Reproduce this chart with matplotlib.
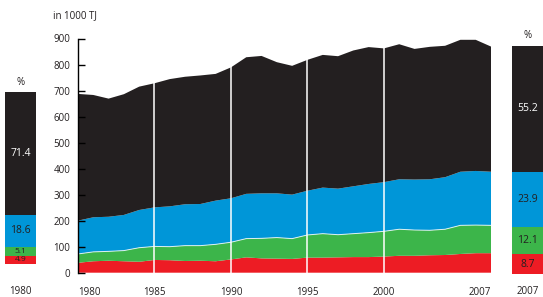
import numpy as np
import matplotlib
matplotlib.use("Agg")
import matplotlib.pyplot as plt

plt.rcParams['font.family'] = ['Open Sans', 'DejaVu Sans']

# data, in 1000 TJ
years = list(range(1980, 2008))
red = [38, 44, 46, 44, 42, 49, 48, 45, 46, 44, 51, 59, 55, 54, 53, 58, 58, 59, 60, 60,
       62, 65, 65, 67, 68, 72, 75, 75]
green = [34, 36, 36, 41, 54, 52, 52, 59, 58, 65, 66, 72, 77, 81, 78, 87, 92, 87, 90, 94,
         97, 102, 99, 96, 99, 110, 108, 107]
blue = [128, 133, 133, 137, 145, 150, 155, 159, 160, 168, 169, 172, 173, 170, 169, 170,
        177, 177, 182, 187, 189, 192, 194, 196, 200, 206, 208, 206]
black = [487, 470, 454, 464, 474, 477, 489, 490, 494, 487, 503, 525, 528, 504, 495, 503,
         510, 509, 522, 526, 514, 519, 502, 509, 505, 507, 504, 481]

share_1980 = [4.9, 5.1, 18.6, 71.4]
share_2007 = [8.7, 12.1, 23.9, 55.2]
share_text = ['#231f20', '#231f20', '#231f20', 'white']

xticks = [1980, 1985, 1990, 1995, 2000, 2007]
yticks = [0, 100, 200, 300, 400, 500, 600, 700, 800, 900]

colors = ['#ed1c24', '#3cb54a', '#0096d8', '#231f20']
txt = '#231f20'

W, H = 543, 297
fig = plt.figure(figsize=(W / 100, H / 100), dpi=100)

# main area chart
ax = fig.add_axes([78 / W, (H - 272.7) / H, (491 - 78) / W, 234.2 / H])
ax.stackplot(years, red, green, blue, black, colors=colors, lw=0)
ax.plot(years, np.array(red) + np.array(green), color='white', lw=0.7, alpha=0.8)
for yr in [1985, 1990, 1995, 2000]:
    ax.axvline(yr, color='white', lw=1.1)
ax.set_xlim(1980, 2007)
ax.set_ylim(0, 900)
for s in ['top', 'right', 'bottom']:
    ax.spines[s].set_visible(False)
ax.spines['left'].set_linewidth(1.0)
ax.spines['left'].set_color('black')
ax.set_yticks(yticks)
ax.set_xticks(xticks)
ax.tick_params(axis='y', direction='in', length=5, width=1.0, color='black',
               labelsize=7, labelcolor=txt, pad=5.5)
ax.tick_params(axis='x', length=0, labelsize=7, labelcolor=txt, pad=10)
ax.set_xticklabels([str(y) for y in xticks])
xl = ax.get_xticklabels()
xl[0].set_ha('left')
xl[-1].set_ha('right')
fig.text(53 / W, 1 - 16 / H, 'in 1000 TJ', fontsize=7, color=txt, va='center', ha='left')


def share_bar(rect, shares, year, ytop, yyear):
    bx = fig.add_axes(rect)
    bottom = 0
    for v, c, tc in zip(shares, colors, share_text):
        bx.bar(0, v, bottom=bottom, width=1, color=c, lw=0)
        fs = 7.5 if v > 6 else 6
        bx.text(0, bottom + v / 2, f'{v:.1f}', ha='center', va='center',
                fontsize=fs, color=tc)
        bottom += v
    bx.set_xlim(-0.5, 0.5)
    bx.set_ylim(0, sum(shares))
    bx.axis('off')
    cx = rect[0] + rect[2] / 2
    fig.text(cx, 1 - ytop / H, '%', ha='center', va='center', fontsize=7, color=txt)
    fig.text(cx, 1 - yyear / H, year, ha='center', va='center', fontsize=7, color=txt)


share_bar([5 / W, (H - 264) / H, 31 / W, 172 / H], share_1980, '1980', 83, 291)
share_bar([511.7 / W, (H - 274) / H, 31.3 / W, 228 / H], share_2007, '2007', 35, 291)

fig.savefig('out.png', dpi=100)
